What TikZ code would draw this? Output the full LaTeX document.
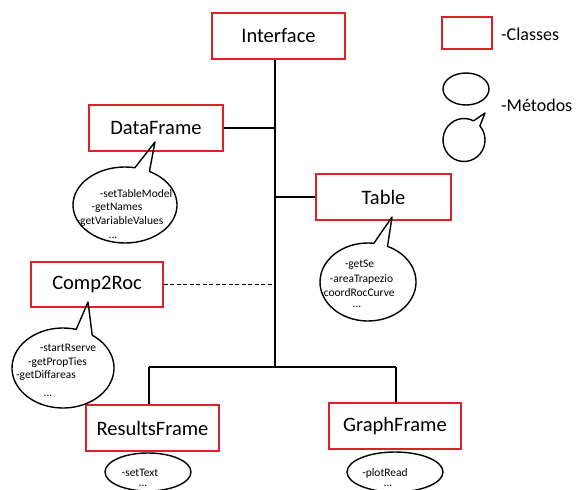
\documentclass[tikz,border=0pt]{standalone}
\usepackage{fontspec}
\setmainfont{Carlito}
\definecolor{boxred}{RGB}{222,32,40}
\begin{document}
\begin{tikzpicture}[x=1pt,y=1pt,
  classbox/.style={draw=boxred,line width=1.4pt,minimum height=46pt,inner sep=0pt,font=\fontsize{20.5}{24}\selectfont},
  conn/.style={line width=1.3pt,black},
  bubble/.style={line width=1.4pt,black,line join=round},
  mtext/.style={anchor=base,inner sep=0pt,font=\fontsize{11.5}{14}\selectfont},
  legtext/.style={anchor=west,inner sep=0pt,font=\fontsize{18}{22}\selectfont}]
\clip (0,0) rectangle (576,-490);
\fill[white] (0,0) rectangle (576,-490);

% class boxes
\node[classbox,minimum width=133pt] (iface) at (278.5,-36) {Interface};
\node[classbox,minimum width=134pt] (dframe) at (156,-128) {DataFrame};
\node[classbox,minimum width=135pt] (table) at (383.5,-197) {Table};
\node[classbox,minimum width=132pt,minimum height=45pt] (comp) at (97,-284.5) {Comp2Roc};
\node[classbox,minimum width=133pt] (results) at (152.5,-428) {ResultsFrame};
\node[classbox,minimum width=132pt] (graph) at (395,-426) {GraphFrame};

% connectors
\coordinate (jB) at (275,-367);
\coordinate (jL) at (149,-367);
\coordinate (jR) at (396,-367);
\draw[conn] (iface.south -| jB) -- (jB);
\draw[conn] (dframe.east) -- (dframe.east -| jB);
\draw[conn] (table.west) -- (table.west -| jB);
\draw[conn,dashed,dash pattern=on 4pt off 2.5pt] (comp.east) -- (comp.east -| jB);
\draw[conn] (jL) -- (jR);
\draw[conn] (jL) -- (results.north -| jL);
\draw[conn] (jR) -- (graph.north -| jR);

% callouts
\draw[bubble] (125,-205) ++(79:52pt and 38pt) arc[start angle=79,end angle=422,x radius=52pt,y radius=38pt] -- (155,-142) -- cycle;
\draw[bubble] (368,-282) ++(83:48pt and 39pt) arc[start angle=83,end angle=426,x radius=48pt,y radius=39pt] -- (392,-217) -- cycle;
\draw[bubble] (63,-368) ++(75:51pt and 40pt) arc[start angle=75,end angle=415,x radius=51pt,y radius=40pt] -- (88,-302) -- cycle;
\draw[bubble] (148,-472) ellipse[x radius=43pt,y radius=19pt];
\draw[bubble] (395,-472) ellipse[x radius=48pt,y radius=20pt];

% method texts
\node[mtext] (d1) at (136,-197) {-setTableModel};
\node[mtext] (d2) at (117,-210) {-getNames};
\node[mtext] (d3) at (120,-224) {-getVariableValues};
\node[mtext] (d4) at (113,-238) {...};

\node[mtext] (t1) at (359.5,-267) {-getSe};
\node[mtext] (t2) at (361.5,-282) {-areaTrapezio};
\node[mtext] (t3) at (357.5,-296) {-coordRocCurve};
\node[mtext] (t4) at (357,-307) {...};

\node[mtext] (c1) at (68,-351) {-startRserve};
\node[mtext] (c2) at (57.5,-365) {-getPropTies};
\node[mtext] (c3) at (46,-378) {-getDiffareas};
\node[mtext] (c4) at (48,-396) {...};

\node[mtext] (r1) at (140,-476) {-setText};
\node[mtext] (r2) at (143,-486) {...};
\node[mtext] (g1) at (385,-476) {-plotRead};
\node[mtext] (g2) at (388,-486) {...};

% legend
\node[draw=boxred,line width=1.4pt,minimum width=50pt,minimum height=32pt,inner sep=0pt] (legbox) at (467,-33) {};
\node[legtext] (legc) at (501,-34) {-Classes};
\draw[bubble] (466,-89) ellipse[x radius=23pt,y radius=16pt];
\draw[bubble] (464,-140) ++(63:21pt and 21.5pt) arc[start angle=63,end angle=401,x radius=21pt,y radius=21.5pt] -- (485,-113) -- cycle;
\node[legtext] (legm) at (501,-105) {-Métodos};
\end{tikzpicture}
\end{document}
